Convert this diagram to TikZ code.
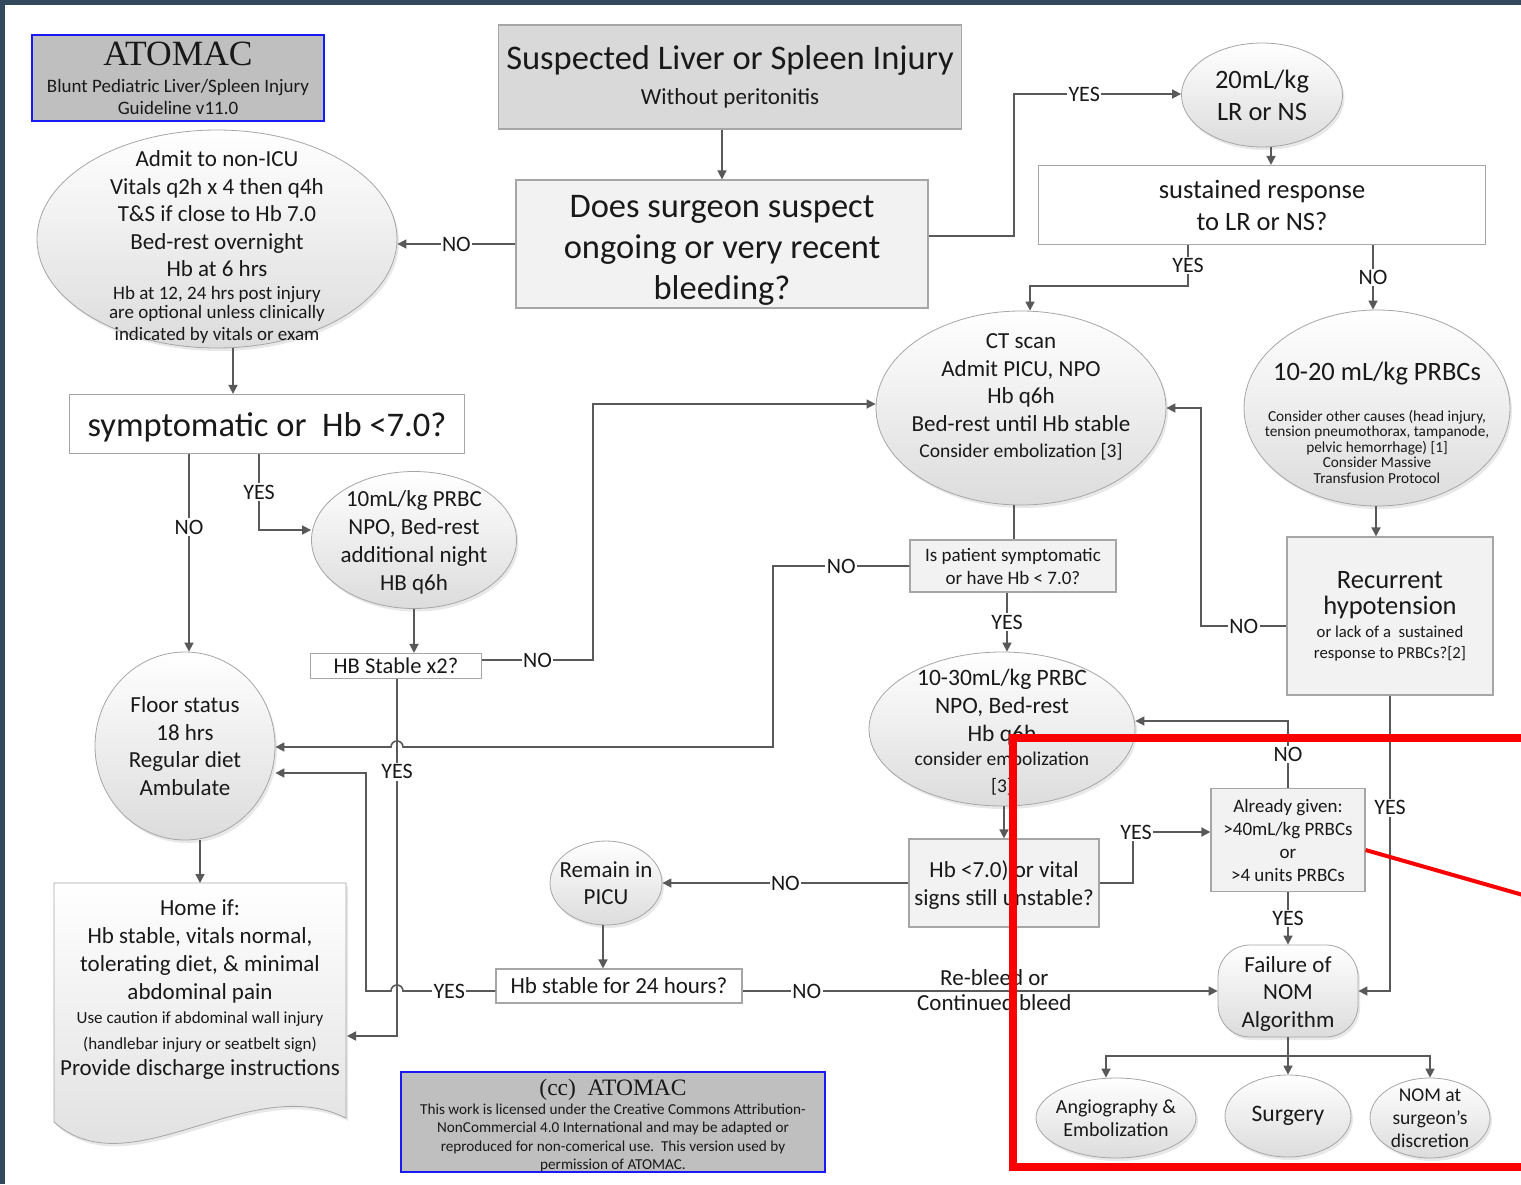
\documentclass[tikz,border=0pt]{standalone}
\usepackage{fontspec}
\setmainfont{Carlito}
\newfontfamily\timesfont{Liberation Serif}
\usetikzlibrary{arrows.meta,shapes.geometric,shadows}
\definecolor{frameblue}{RGB}{52,73,94}
\definecolor{flowline}{RGB}{89,89,89}
\definecolor{shapeedge}{RGB}{166,166,166}
\definecolor{boxfill}{RGB}{242,242,242}
\definecolor{titlefill}{RGB}{217,217,217}
\definecolor{logofill}{RGB}{191,191,191}
\definecolor{logoedge}{RGB}{25,25,245}
\definecolor{ellfill}{RGB}{220,220,220}
\definecolor{textdark}{RGB}{25,25,25}
\definecolor{markred}{RGB}{250,0,0}
\newcommand{\fsz}[2]{\fontsize{#1}{#2}\selectfont\lineskiplimit=-50pt\lineskip=0pt}
\newcommand{\padtop}[1]{\rule{0pt}{#1}}
\newcommand{\padbot}[1]{\rule[-#1]{0pt}{#1}}
\tikzset{every node/.style={text=textdark,align=center,inner sep=0pt},
 ell/.style={ellipse,inner sep=-40pt,draw=shapeedge,line width=0.8pt,top color=white,
  bottom color=ellfill,drop shadow={opacity=0.18,shadow xshift=2pt,shadow yshift=-3pt}},
 qbox/.style={rectangle,draw=shapeedge,line width=1.2pt,fill=boxfill},
 wbox/.style={rectangle,draw=shapeedge,line width=1.2pt,fill=white},
 logo/.style={rectangle,draw=logoedge,line width=2pt,fill=logofill},
 flow/.style={draw=flowline,line width=1.6pt},
 arr/.style={flow,-{Triangle[length=9pt,width=9pt]}},
 lbl/.style={fill=white,inner sep=1.5pt,font=\fsz{22}{22}}}

\begin{document}
\begin{tikzpicture}[x=1pt,y=-1pt]
\useasboundingbox (0,0) rectangle (1521,1184);
\fill[white] (0,0) rectangle (1521,1184);

\node[logo,minimum width=292pt,minimum height=86pt,font=\fsz{19}{22}] (logo) at (178,78)
 {{\timesfont\fsz{35.5}{35.5}ATOMAC}\\[5pt]Blunt Pediatric Liver/Spleen Injury\\Guideline v11.0};
\node[rectangle,draw=shapeedge,line width=1.2pt,fill=titlefill,minimum width=463pt,minimum height=104pt,
  font=\fsz{23}{35}] (susp) at (730,77)
 {{\fsz{34.5}{34.5}Suspected Liver or Spleen Injury}\\Without peritonitis};
\node[qbox,minimum width=412pt,minimum height=128pt,font=\fsz{34.5}{41}] (bleed) at (722,244)
 {\padtop{34pt}Does surgeon suspect\\ongoing or very recent\\bleeding?};
\node[ell,minimum width=360pt,minimum height=218pt,font=\fsz{23}{27.5}] (admit) at (217,239)
 {\padtop{33pt}Admit to non-ICU\\Vitals q2h x 4 then q4h\\T\&S if close to Hb 7.0\\Bed-rest overnight\\Hb at 6 hrs\\[-4.5pt]
  {\fsz{19}{19}Hb at 12, 24 hrs post injury}\\[-8.5pt]{\fsz{19}{19}are optional unless clinically}\\[-5.5pt]
  {\fsz{19}{19}indicated by vitals or exam}};
\node[wbox,minimum width=395pt,minimum height=59pt,font=\fsz{34.5}{36}] (symp) at (267,424)
 {\padtop{31pt}symptomatic or\ \ Hb <7.0?};
\node[ell,minimum width=205pt,minimum height=137pt,font=\fsz{23}{28}] (prbc10) at (414,540)
 {\padtop{20pt}10mL/kg PRBC\\NPO, Bed-rest\\additional night\\HB q6h};
\node[wbox,minimum width=171pt,minimum height=25pt,font=\fsz{22.5}{22.5}] (hbst2) at (396,666)
 {HB Stable x2?};
\node[ell,minimum width=180pt,minimum height=188pt,font=\fsz{23}{27.5}] (floor) at (185,746)
 {Floor status\\18 hrs\\Regular diet\\Ambulate};
\path[draw=shapeedge,line width=0.8pt,top color=white,bottom color=ellfill,
  drop shadow={opacity=0.18,shadow xshift=2pt,shadow yshift=-3pt}]
 (54,883) -- (346,883) -- (346,1118) .. controls (250,1070) and (130,1190) .. (54,1122) -- cycle;
\node[minimum width=292pt,font=\fsz{23}{28}] (home) at (200,990)
 {Home if:\\Hb stable, vitals normal,\\tolerating diet, \& minimal\\abdominal pain\\[-4pt]
  {\fsz{17}{17}Use caution if abdominal wall injury}\\[-2pt]{\fsz{17}{17}(handlebar injury or seatbelt sign)}\\[-2pt]
  Provide discharge instructions};
\coordinate (homeT) at (200,883);
\coordinate (homeR) at (347,1036);

\node[ell,minimum width=161pt,minimum height=104pt,font=\fsz{26.5}{32}] (lr) at (1262,95)
 {20mL/kg\\LR or NS};
\node[wbox,minimum width=447pt,minimum height=79pt,font=\fsz{26.5}{32}] (sust) at (1262,205)
 {sustained response\\to LR or NS?};
\node[ell,minimum width=290pt,minimum height=194pt,font=\fsz{23}{27.5}] (ct) at (1021,408)
 {CT scan\\Admit PICU, NPO\\Hb q6h\\Bed-rest until Hb stable\\[-1.5pt]{\fsz{19.5}{19.5}Consider embolization [3]\padbot{25pt}}};
\node[ell,minimum width=266pt,minimum height=196pt,font=\fsz{15.3}{15.5}] (prbc20) at (1377,408)
 {{\fsz{26.5}{26.5}\padtop{48pt}10-20 mL/kg PRBCs}\\[25.5pt]Consider other causes (head injury,\\tension pneumothorax, tampanode,\\pelvic hemorrhage) [1]\\Consider Massive\\Transfusion Protocol};
\node[qbox,minimum width=206pt,minimum height=158pt,font=\fsz{26.5}{26}] (recur) at (1390,616)
 {Recurrent\\hypotension\\[-3pt]{\fsz{16.7}{16.7}or lack of a\ \ sustained}\\[-5pt]{\fsz{16.7}{16.7}response to PRBCs?[2]}};
\node[qbox,minimum width=206pt,minimum height=52pt,font=\fsz{19}{23}] (issym) at (1013,566)
 {Is patient symptomatic\\or have Hb < 7.0?};
\node[ell,minimum width=266pt,minimum height=154pt,font=\fsz{23.5}{28}] (prbc30) at (1002,729)
 {\padtop{22pt}10-30mL/kg PRBC\\NPO, Bed-rest\\Hb q6h\\[-4pt]{\fsz{19.5}{19.5}consider embolization}\\[-1pt]{\fsz{19.5}{19.5}[3]}};
\node[qbox,minimum width=190pt,minimum height=88pt,font=\fsz{23}{28}] (unst) at (1004,883)
 {\padtop{20pt}Hb <7.0) or vital\\signs still unstable?};
\node[qbox,minimum width=154pt,minimum height=103pt,font=\fsz{19}{23}] (given) at (1288,840)
 {Already given:\\>40mL/kg PRBCs\\or\\>4 units PRBCs};
\node[rectangle,rounded corners=32pt,draw=shapeedge,line width=0.8pt,top color=white,bottom color=ellfill,
  drop shadow={opacity=0.18,shadow xshift=2pt,shadow yshift=-3pt},minimum width=140pt,minimum height=92pt,
  font=\fsz{23}{27.5}] (fail) at (1288,991)
 {\padtop{21pt}Failure of\\NOM\\Algorithm};
\node[ell,minimum width=160pt,minimum height=80pt,font=\fsz{20}{23}] (angio) at (1116,1118)
 {Angiography \&\\Embolization};
\node[ell,minimum width=126pt,minimum height=82pt,font=\fsz{23.6}{23.6}] (surg) at (1288,1116)
 {Surgery};
\node[ell,minimum width=120pt,minimum height=80pt,font=\fsz{19.5}{23}] (nomat) at (1430,1118)
 {NOM at\\surgeon’s\\discretion};
\node[ell,minimum width=112pt,minimum height=84pt,font=\fsz{23}{27}] (picu) at (606,883)
 {Remain in\\PICU};
\node[wbox,minimum width=246pt,minimum height=34pt,font=\fsz{23}{24}] (hb24) at (619,986)
 {Hb stable for 24 hours?};
\node[logo,minimum width=424pt,minimum height=99pt,font=\fsz{15.2}{18.5}] (cc) at (613,1122)
 {{\timesfont\fsz{23.5}{23.5}\padtop{24pt}(cc)\ \ ATOMAC}\\This work is licensed under the Creative Commons Attribution-\\NonCommercial 4.0 International and may be adapted or\\reproduced for non-comerical use.\ \ This version used by\\permission of ATOMAC.};

\draw[arr] (susp.south -| bleed.north) -- (bleed.north);
\draw[arr] (bleed.west) -- node[lbl]{NO} (admit.east |- bleed.west);
\draw[arr] (bleed.east |- 0,236) -- (1014,236) -- (1014,94) -- node[lbl,pos=0.42]{YES} (lr.west |- 0,94);
\draw[arr] (lr.south -| 1271,0) -- (sust.north -| 1271,0);
\draw[arr] (sust.south -| 1188,0) -- node[lbl]{YES} (1188,286) -- (1030,286) -- (ct.north -| 1030,0);
\draw[arr] (sust.south -| 1373,0) -- node[lbl]{NO} (prbc20.north -| 1373,0);
\draw[arr] (prbc20.south -| 1376,0) -- (recur.north -| 1376,0);
\draw[arr] (recur.west |- 0,626) -- node[lbl]{NO} (1201,626) -- (1201,408) -- (ct.east);
\draw[arr] (recur.south) -- node[lbl,pos=0.38]{YES} (recur.south |- fail.east) -- (fail.east);
\draw[flow] (ct.south -| 1014,0) -- (issym.north -| 1014,0);
\draw[arr] (issym.west) -- node[lbl]{NO} (773,566) -- (773,747) -- (403,747) arc (0:-180:6) -- (floor.east |- 0,747);
\draw[arr] (issym.south -| 1007,0) -- node[lbl]{YES} (prbc30.north -| 1007,0);
\draw[arr] (prbc30.south -| 1004,0) -- (unst.north -| 1004,0);
\draw[arr] (unst.west) -- node[lbl]{NO} (picu.east);
\draw[arr] (unst.east) -- (1133,883) -- (1133,832) node[lbl,xshift=3pt]{YES} -- (given.west |- 0,832);
\draw[arr] (given.north) -- node[lbl]{NO} (given.north |- 0,721) -- (prbc30.east |- 0,721);
\draw[arr] (given.south) -- node[lbl]{YES} (fail.north);
\coordinate (split) at (1288,1056);
\draw[flow] (fail.south) -- (split);
\draw[arr] (split) -- (surg.north);
\draw[arr] (split) -| (angio.north -| 1106,0);
\draw[arr] (split) -| (nomat.north);
\draw[arr] (picu.south -| 603,0) -- (hb24.north -| 603,0);
\draw[arr] (hb24.east |- 0,991) -- node[lbl,pos=0.135]{NO}
  node[pos=0.53,above=5pt,font=\fsz{23}{23}]{Re-bleed or}
  node[pos=0.53,below=3pt,font=\fsz{23}{23}]{Continued bleed} (fail.west);
\draw[arr] (hb24.west |- 0,991) -- node[lbl]{YES} (403,991) arc (0:-180:6) -- (366,991) -- (366,773) -- (floor.east |- 0,773);
\draw[arr] (hbst2.east |- 0,660) -- node[lbl]{NO} (593,660) -- (593,404) -- (ct.west |- 0,404);
\draw[arr] (hbst2.south -| 397,0) -- node[lbl,pos=0.26]{YES} (397,1036) -- (homeR);
\draw[arr] (prbc10.south -| 414,0) -- (hbst2.north -| 414,0);
\draw[arr] (symp.south -| 189,0) -- node[lbl,pos=0.37]{NO} (floor.north -| 189,0);
\draw[arr] (symp.south -| 259,0) -- node[lbl]{YES} (259,530) -- (prbc10.west |- 0,530);
\draw[arr] (admit.south -| 233,0) -- (symp.north -| 233,0);
\draw[arr] (floor.south -| 200,0) -- (homeT);

\draw[markred,line width=8pt] (1013,738) rectangle (1545,1167);
\draw[markred,line width=4pt] (given.east |- 0,850) -- (1530,897);
\fill[frameblue] (0,0) rectangle (1521,5);
\fill[frameblue] (0,0) rectangle (5,1184);
\end{tikzpicture}
\end{document}
